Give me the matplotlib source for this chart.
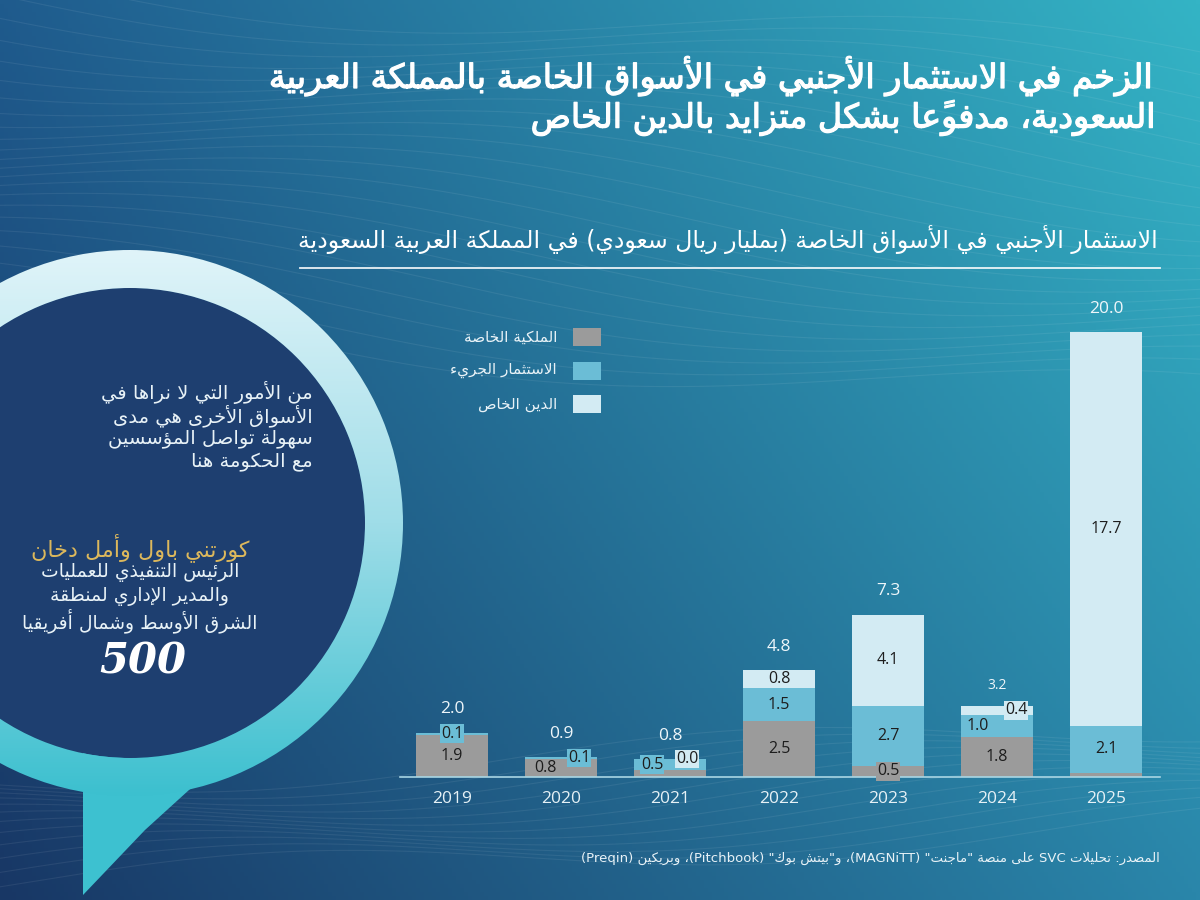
import numpy as np
import matplotlib
matplotlib.use("Agg")
import matplotlib.pyplot as plt
import matplotlib.patheffects as pe
from matplotlib.patches import Rectangle, Circle, Wedge, Polygon
from matplotlib.colors import LinearSegmentedColormap, to_rgb


# ======================
# Data
# ======================

years = ["2019", "2020", "2021", "2022", "2023", "2024", "2025"]
private_equity = [1.9, 0.8, 0.3, 2.5, 0.5, 1.8, 0.2]
venture_capital = [0.1, 0.1, 0.5, 1.5, 2.7, 1.0, 2.1]
private_debt = [0.0, 0.0, 0.0, 0.8, 4.1, 0.4, 17.7]
totals = [2.0, 0.9, 0.8, 4.8, 7.3, 3.2, 20.0]

series_names = ["الملكية الخاصة", "الاستثمار الجريء", "الدين الخاص"]
series_colors = ["#9b9b9b", "#6bbdd6", "#d3ebf3"]

title_lines = [
    "الزخم في الاستثمار الأجنبي في الأسواق الخاصة بالمملكة العربية",
    "السعودية، مدفوعًا بشكل متزايد بالدين الخاص",
]
subtitle = "الاستثمار الأجنبي في الأسواق الخاصة (بمليار ريال سعودي) في المملكة العربية السعودية"
quote_lines = [
    "من الأمور التي لا نراها في",
    "الأسواق الأخرى هي مدى",
    "سهولة تواصل المؤسسين",
    "مع الحكومة هنا",
]
speaker = "كورتني باول وأمل دخان"
role_lines = [
    "الرئيس التنفيذي للعمليات",
    "والمدير الإداري لمنطقة",
    "الشرق الأوسط وشمال أفريقيا",
]
source = 'المصدر: تحليلات SVC على منصة "ماجنت" (MAGNiTT)، و"بيتش بوك" (Pitchbook)، وبريكين (Preqin)'


# ======================
# Arabic shaping (no bidi lib available)
# ======================

DUAL = {"ئ": 0xFE89, "ب": 0xFE8F, "ت": 0xFE95, "ث": 0xFE99, "ج": 0xFE9D,
        "ح": 0xFEA1, "خ": 0xFEA5, "س": 0xFEB1, "ش": 0xFEB5, "ص": 0xFEB9,
        "ض": 0xFEBD, "ط": 0xFEC1, "ظ": 0xFEC5, "ع": 0xFEC9, "غ": 0xFECD,
        "ف": 0xFED1, "ق": 0xFED5, "ك": 0xFED9, "ل": 0xFEDD, "م": 0xFEE1,
        "ن": 0xFEE5, "ه": 0xFEE9, "ي": 0xFEF1}
RIGHT = {"آ": 0xFE81, "أ": 0xFE83, "ؤ": 0xFE85, "إ": 0xFE87, "ا": 0xFE8D,
         "ة": 0xFE93, "د": 0xFEA9, "ذ": 0xFEAB, "ر": 0xFEAD, "ز": 0xFEAF,
         "و": 0xFEED, "ى": 0xFEEF}
LAMALEF = {"آ": 0xFEF5, "أ": 0xFEF7, "إ": 0xFEF9, "ا": 0xFEFB}
MARKS = set(chr(c) for c in range(0x064B, 0x0653))


def jtype(u):
    if isinstance(u, tuple):
        return "R"
    if u in DUAL:
        return "D"
    if u in RIGHT:
        return "R"
    if u == "ء":
        return "U"
    return None


def shape(text):
    units = []
    i = 0
    while i < len(text):
        c = text[i]
        if c in MARKS and units:
            units[-1][1] += c
            i += 1
            continue
        if c == "ل" and i + 1 < len(text) and text[i + 1] in LAMALEF:
            units.append([("LA", text[i + 1]), ""])
            i += 2
            continue
        units.append([c, ""])
        i += 1
    out = []
    for k, (u, marks) in enumerate(units):
        t = jtype(u)
        prev_t = jtype(units[k - 1][0]) if k > 0 else None
        next_t = jtype(units[k + 1][0]) if k + 1 < len(units) else None
        pj = prev_t == "D" and t in ("D", "R")
        nj = t == "D" and next_t in ("D", "R")
        if isinstance(u, tuple):
            g = chr(LAMALEF[u[1]] + (1 if pj else 0))
        elif t == "D":
            g = chr(DUAL[u] + (3 if pj and nj else 1 if pj else 2 if nj else 0))
        elif t == "R":
            g = chr(RIGHT[u] + (1 if pj else 0))
        elif t == "U":
            g = "\uFE80"
        else:
            g = u
        out.append(g + marks)
    return out


def ar(text):
    tokens = []
    run = ""
    for g in shape(text):
        if g.isascii() and g.isalnum():
            run += g
            continue
        if run:
            tokens.append(run)
            run = ""
        tokens.append({"(": ")", ")": "("}.get(g, g))
    if run:
        tokens.append(run)
    return "".join(reversed(tokens))


AR_FONT = "DejaVu Sans"
NUM_FONT = "Open Sans"

# ======================
# Figure + background
# ======================

W, H = 1200, 900
fig = plt.figure(figsize=(12, 9), dpi=100)
bg = fig.add_axes([0, 0, 1, 1])
bg.set_xlim(0, W)
bg.set_ylim(H, 0)
bg.axis("off")

tl, tr = np.array(to_rgb("#1f5b8d")), np.array(to_rgb("#34b4c5"))
bl, br = np.array(to_rgb("#183765")), np.array(to_rgb("#2a86aa"))
gx = np.linspace(0, 1, 300)[None, :, None]
gy = np.linspace(0, 1, 225)[:, None, None]
grad = (1 - gy) * ((1 - gx) * tl + gx * tr) + gy * ((1 - gx) * bl + gx * br)
bg.imshow(grad, extent=[0, W, H, 0], aspect="auto", zorder=0)

# faint wavy background lines
xs = np.linspace(0, W, 400)
for k in range(22):
    ys = 20 + k * 16 + 30 * np.sin(xs / 210 + k * 0.25) + 0.08 * (xs - 600)
    bg.plot(xs, ys, color="white", alpha=0.07, lw=0.8, zorder=1)
for k in range(12):
    ys = 770 + k * 9 + 18 * np.sin(xs / 160 - k * 0.3) - 0.05 * (xs - 300)
    bg.plot(xs, ys, color="white", alpha=0.07, lw=0.8, zorder=1)

# speech bubble
cx, cy, r_out, r_in = 130, 523, 273, 235
bg.add_patch(Polygon([(83, 745), (83, 895), (145, 830), (200, 780)],
                     closed=True, fc="#3dc1d0", ec="none", zorder=2))
bg.add_patch(Circle((cx, cy), r_in, fc="#1e3f70", ec="none", zorder=3))
ring = Wedge((cx, cy), r_out, 0, 360, width=r_out - r_in, fc="none", ec="none")
bg.add_patch(ring)
ring_cmap = LinearSegmentedColormap.from_list("ring", ["#e0f4f9", "#9fdde8", "#3cc0cf"])
ring_img = bg.imshow(np.linspace(0, 1, 256)[:, None], cmap=ring_cmap, aspect="auto",
                     extent=[cx - r_out, cx + r_out, cy + r_out, cy - r_out], zorder=4)
ring_img.set_clip_path(ring)
bg.set_xlim(0, W)
bg.set_ylim(H, 0)

# titles
for i, line in enumerate(title_lines):
    bg.text(1158, 76 + i * 42, ar(line), ha="right", va="center", color="white",
            fontsize=24, family=AR_FONT, zorder=5,
            path_effects=[pe.withStroke(linewidth=0.9, foreground="white")])
bg.text(1158, 240, ar(subtitle), ha="right", va="center", color="white",
        fontsize=17, family=AR_FONT, zorder=5)
bg.plot([300, 1160], [268, 268], color="white", lw=1.3, alpha=0.9, zorder=5)

# quote block
for i, line in enumerate(quote_lines):
    bg.text(313, 392 + i * 23.5, ar(line), ha="right", va="center", color="#e8f2f7",
            fontsize=14, family=AR_FONT, zorder=5)
bg.text(140, 548, ar(speaker), ha="center", va="center", color="#dcb85c",
        fontsize=16, family=AR_FONT, zorder=5)
for i, line in enumerate(role_lines):
    bg.text(140, 573 + i * 24, ar(line), ha="center", va="center", color="#e8f2f7",
            fontsize=13.5, family=AR_FONT, zorder=5)
bg.text(143, 662, "500", ha="center", va="center", color="white", fontsize=30,
        family="DejaVu Serif", weight="bold", style="italic", zorder=5)

# source
bg.text(1160, 858, ar(source), ha="right", va="center", color="#e8f2f7",
        fontsize=9.5, family=AR_FONT, zorder=5)

# legend
for i, (name, col) in enumerate(zip(series_names, series_colors)):
    y = 337 + i * 33.5
    bg.add_patch(Rectangle((573, y - 9), 28, 18, fc=col, ec="none", zorder=5))
    bg.text(557, y, ar(name), ha="right", va="center", color="#e8f2f7",
            fontsize=11, family=AR_FONT, zorder=5)

# ======================
# Bar chart
# ======================

px_per_unit = 22.25
ymax = 21
ax = fig.add_axes([400 / W, (H - 777) / H, 760 / W, ymax * px_per_unit / H])
ax.patch.set_alpha(0)
x = np.arange(len(years))
ax.set_xlim((400 - 452) / 109, (1160 - 452) / 109)
ax.set_ylim(0, ymax)

stacks = [private_equity, venture_capital, private_debt]
bottom = np.zeros(len(years))
for vals, col in zip(stacks, series_colors):
    ax.bar(x, vals, width=0.66, bottom=bottom, color=col, zorder=2)
    bottom = bottom + np.array(vals)

# segment labels: (year index, series index) -> (dx px, boxed)
label_spots = {
    (0, 0): (0, False), (0, 1): (0, True),
    (1, 0): (-16, False), (1, 1): (18, True),
    (2, 1): (-18, True), (2, 2): (17, True),
    (3, 0): (0, False), (3, 1): (0, False), (3, 2): (0, False),
    (4, 0): (0, True), (4, 1): (0, False), (4, 2): (0, False),
    (5, 0): (0, False), (5, 1): (-19, False), (5, 2): (19, True),
    (6, 1): (0, False), (6, 2): (0, False),
}
base = np.zeros(len(years))
for s, vals in enumerate(stacks):
    for i, v in enumerate(vals):
        if (i, s) in label_spots:
            dx, boxed = label_spots[(i, s)]
            box = dict(boxstyle="square,pad=0.08", fc=series_colors[s], ec="none") if boxed else None
            ax.annotate(f"{v:.1f}", (x[i], base[i] + v / 2), xytext=(dx * 0.72, 0),
                        textcoords="offset points", ha="center", va="center",
                        color="#1d1d1d", fontsize=11.5, family=NUM_FONT, bbox=box, zorder=4)
    base = base + np.array(vals)

for i, t in enumerate(totals):
    small = years[i] == "2024"
    ax.annotate(f"{t:.1f}", (x[i], base[i]), xytext=(0, 9 if small else 11),
                textcoords="offset points", ha="center", va="bottom",
                color="#eef6fa", fontsize=10 if small else 12.5, family=NUM_FONT, zorder=4)

ax.set_xticks(x)
ax.set_xticklabels(years, color="#e6f1f6", fontsize=12.5, family=NUM_FONT)
ax.tick_params(axis="x", length=0, pad=10)
ax.set_yticks([])
for side in ["top", "right", "left"]:
    ax.spines[side].set_visible(False)
ax.spines["bottom"].set_color("#a9d6e4")
ax.spines["bottom"].set_linewidth(1.2)

fig.savefig("out.png", dpi=100)
